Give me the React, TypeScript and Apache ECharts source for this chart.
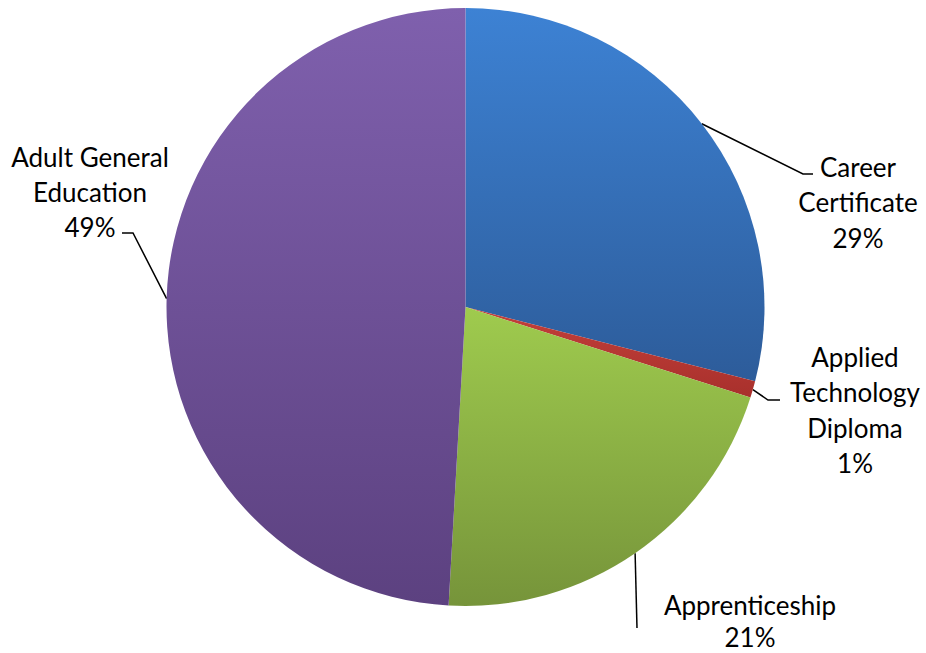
import React, { useEffect, useRef } from "react";
import * as echarts from "echarts";

const categories = ["Career Certificate", "Applied Technology Diploma", "Apprenticeship", "Adult General Education"];
const labelText = ["Career\nCertificate", "Applied\nTechnology\nDiploma", "Apprenticeship", "Adult General\nEducation"];
const values = [29.0, 0.9, 21.0, 49.1];
const topColors = ["#3d82d4", "#c4403a", "#9fcb4e", "#7f60ad"];
const bottomColors = ["#2d5c9a", "#a8302c", "#76943a", "#5c4180"];

// label placement: [centerX, topY], line height, leader line bend/end points
const labelPos: [number, number][] = [[858, 149], [855, 339], [750, 589], [90, 139]];
const labelLineHeight = [35.5, 35.5, 32, 35];
const linePts: [number, number][][] = [
  [[803, 174], [813, 174]],
  [[768, 400], [780, 400]],
  [[637, 628], [637, 628]],
  [[133, 233], [122, 233]],
];

export default function App() {
  const ref = useRef<HTMLDivElement>(null);
  useEffect(() => {
    if (!ref.current) return;
    const chart = echarts.init(ref.current, null, { renderer: "svg" });
    chart.setOption({
      animation: false,
      backgroundColor: "#ffffff",
      series: [
        {
          type: "pie",
          center: [465.5, 307],
          radius: 299,
          startAngle: 90,
          clockwise: true,
          data: categories.map((name, i) => ({
            name,
            value: values[i],
            itemStyle: {
              color: new echarts.graphic.LinearGradient(0, 0, 0, 1, [
                { offset: 0, color: topColors[i] },
                { offset: 1, color: bottomColors[i] },
              ]),
            },
            label: { lineHeight: labelLineHeight[i] },
          })),
          itemStyle: { borderWidth: 0 },
          label: {
            show: true,
            position: "outside",
            formatter: (p: any) => `${labelText[p.dataIndex]}\n${Math.round(p.percent)}%`,
            color: "#000000",
            fontFamily: "Lato",
            fontSize: 26,
            lineHeight: 35.5,
            align: "center",
            overflow: "none",
          },
          labelLine: {
            show: true,
            length: 20,
            length2: 10,
            lineStyle: { color: "#000000", width: 1.5 },
          },
          labelLayout: (params: any) => {
            const i = params.dataIndex;
            const anchor = params.labelLinePoints ? params.labelLinePoints[0] : linePts[i][0];
            return {
              x: labelPos[i][0],
              y: labelPos[i][1],
              align: "center",
              verticalAlign: "top",
              labelLinePoints: [anchor, linePts[i][0], linePts[i][1]],
            };
          },
        },
      ],
    });
    return () => chart.dispose();
  }, []);
  return (
    <div
      ref={ref}
      style={{ position: "fixed", left: 0, top: 0, width: 926, height: 653 }}
    />
  );
}
